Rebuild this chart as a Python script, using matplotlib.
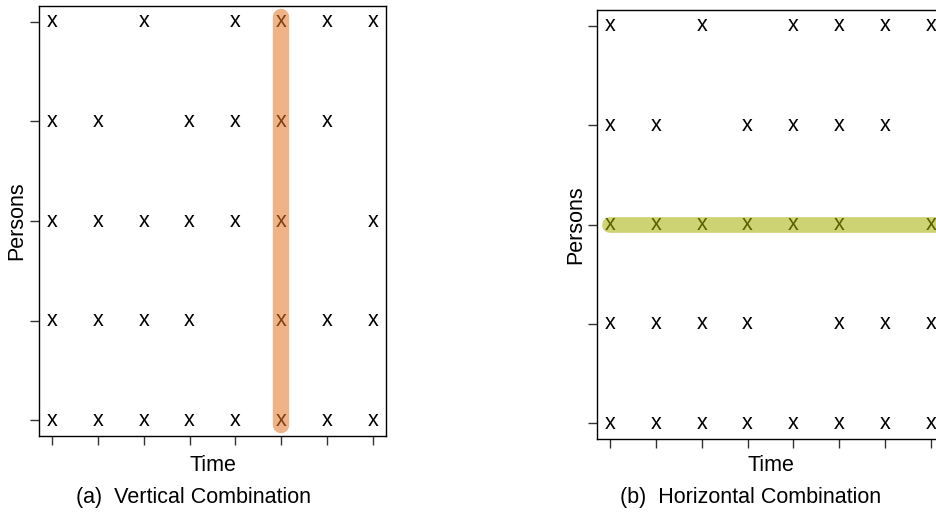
import matplotlib.pyplot as plt
from matplotlib.transforms import offset_copy

plt.rcParams['font.family'] = ['Liberation Sans', 'DejaVu Sans']

# observations: for each person (row 1 = bottom), the time slots that have an "x"
persons = [1, 2, 3, 4, 5]
obs_times = {
    5: [1, 3, 5, 6, 7, 8],
    4: [1, 2, 4, 5, 6, 7],
    3: [1, 2, 3, 4, 5, 6, 8],
    2: [1, 2, 3, 4, 6, 7, 8],
    1: [1, 2, 3, 4, 5, 6, 7, 8],
}
time_slots = [1, 2, 3, 4, 5, 6, 7, 8]

# highlighted combination
vert_time = 6
horiz_person = 3

captions = ['(a)  Vertical Combination', '(b)  Horizontal Combination']
band_colors = [(229/255, 115/255, 36/255), (164/255, 173/255, 0.0)]


def draw_panel(fig, rect, caption, cap_x, band, color, ylab_x, xlab_y):
    ax = fig.add_axes(rect)
    ax.set_xlim(0.717, 8.283)
    ax.set_ylim(0.84, 5.16)
    trans = offset_copy(ax.transData, fig=fig, x=0, y=-4.0, units='points')
    for p in persons:
        for t in obs_times[p]:
            ax.text(t, p, 'x', fontsize=15.5, ha='center', va='baseline',
                    transform=trans, color='black')
    if band == 'v':
        ax.plot([vert_time, vert_time], [0.955, 5.045], color=color, alpha=0.55,
                lw=11.8, solid_capstyle='round', zorder=5)
    else:
        ax.plot([1.0, 8.3], [horiz_person, horiz_person], color=color, alpha=0.55,
                lw=11.3, solid_capstyle='round', zorder=5, clip_on=False)
    ax.set_xticks(time_slots)
    ax.set_yticks(persons)
    ax.set_xticklabels([])
    ax.set_yticklabels([])
    ax.tick_params(direction='out', length=6.5, width=1.0, color='#333333')
    for s in ax.spines.values():
        s.set_linewidth(1.0)
    ax.set_xlabel('Time', fontsize=15.5)
    ax.set_ylabel('Persons', fontsize=15.5)
    ax.xaxis.set_label_coords(0.5, xlab_y)
    ax.yaxis.set_label_coords(ylab_x, 0.5)
    fig.text(cap_x, 1 - 497/517, caption, fontsize=15.5, ha='center', va='center')
    return ax


fig = plt.figure(figsize=(9.37, 5.17), dpi=100)
draw_panel(fig, [39/937, 1-436/517, 347/937, 430/517], captions[0], 194/937,
           'v', band_colors[0], -0.033, -0.044)
draw_panel(fig, [597/937, 1-439/517, 347/937, 429/517], captions[1], 751/937,
           'h', band_colors[1], -0.030, -0.038)

fig.savefig('out.png', dpi=100)
